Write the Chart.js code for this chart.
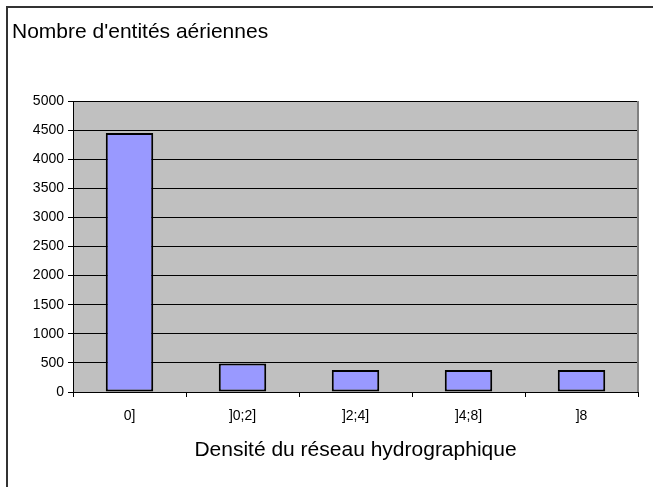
<!DOCTYPE html>
<html>
<head>
<meta charset="utf-8">
<script src="https://cdn.jsdelivr.net/npm/chart.js@4/dist/chart.umd.min.js"></script>
<style>
  html, body { margin: 0; padding: 0; background: #ffffff; overflow: hidden; }
  #frame {
    position: absolute; left: 6px; top: 6px; width: 700px; height: 540px;
    border-left: 2px solid #333333; border-top: 2px solid #333333;
  }
  #wrap { position: absolute; left: 0; top: 0; width: 653px; height: 487px; }
</style>
</head>
<body>
<div id="frame"></div>
<div id="wrap"><canvas id="c" width="653" height="487"></canvas></div>
<script>
// Density classes of the hydrographic network
const categories = ['0]', ']0;2]', ']2;4]', ']4;8]', ']8'];
// Number of aerial entities per class
const entityCounts = [4450, 490, 380, 380, 380];
// Y axis ticks
const yTicks = [0, 500, 1000, 1500, 2000, 2500, 3000, 3500, 4000, 4500, 5000];

const chartTitle = "Nombre d'entités aériennes";
const xAxisTitle = 'Densité du réseau hydrographique';

const FONT = '"Liberation Sans", Arial, sans-serif';

// Grey plot area, its right-hand border and the heading at the top left
const plotPanel = {
  id: 'plotPanel',
  beforeDraw(chart) {
    const { ctx, chartArea: a } = chart;
    ctx.save();
    ctx.fillStyle = '#c0c0c0';
    ctx.fillRect(a.left, a.top, a.right - a.left, a.bottom - a.top);
    ctx.restore();
  },
  afterDatasetsDraw(chart) {
    const { ctx, chartArea: a } = chart;
    ctx.save();
    ctx.strokeStyle = '#808080';
    ctx.lineWidth = 2;
    ctx.beginPath();
    ctx.moveTo(a.right, a.top);
    ctx.lineTo(a.right, a.bottom);
    ctx.stroke();
    ctx.restore();
  },
  afterDraw(chart) {
    const { ctx } = chart;
    ctx.save();
    ctx.fillStyle = '#000000';
    ctx.font = '21px ' + FONT;
    ctx.textBaseline = 'alphabetic';
    ctx.textAlign = 'left';
    ctx.fillText(chartTitle, 12, 38);
    ctx.restore();
  }
};

new Chart(document.getElementById('c'), {
  type: 'bar',
  data: {
    labels: categories,
    datasets: [{
      data: entityCounts,
      backgroundColor: '#9999ff',
      borderColor: '#000000',
      borderWidth: 2,
      borderSkipped: false,
      barPercentage: 0.42,
      categoryPercentage: 1.0
    }]
  },
  options: {
    responsive: false,
    animation: false,
    devicePixelRatio: 1,
    layout: { padding: { top: 101, left: 0, right: 15, bottom: 24 } },
    plugins: {
      legend: { display: false },
      tooltip: { enabled: false },
      title: { display: false }
    },
    scales: {
      x: {
        offset: true,
        grid: {
          offset: true,
          drawOnChartArea: false,
          drawTicks: true,
          tickLength: 5,
          color: '#000000'
        },
        border: { color: '#000000', width: 1 },
        ticks: {
          color: '#000000',
          font: { family: FONT, size: 14 },
          padding: 11,
          maxRotation: 0
        },
        title: {
          display: true,
          text: xAxisTitle,
          color: '#000000',
          font: { family: FONT, size: 21 },
          padding: { top: 16, bottom: 0 }
        },
        afterFit(scale) { scale.height = 71; }
      },
      y: {
        min: 0,
        max: 5000,
        afterBuildTicks(scale) { scale.ticks = yTicks.map(v => ({ value: v })); },
        grid: {
          color: '#000000',
          lineWidth: 1,
          drawTicks: true,
          tickLength: 5
        },
        border: { color: '#000000', width: 1 },
        ticks: {
          color: '#000000',
          font: { family: FONT, size: 14 },
          padding: 4,
          callback: (v) => String(v)
        },
        afterFit(scale) { scale.width = 73; }
      }
    }
  },
  plugins: [plotPanel]
});
</script>
</body>
</html>
